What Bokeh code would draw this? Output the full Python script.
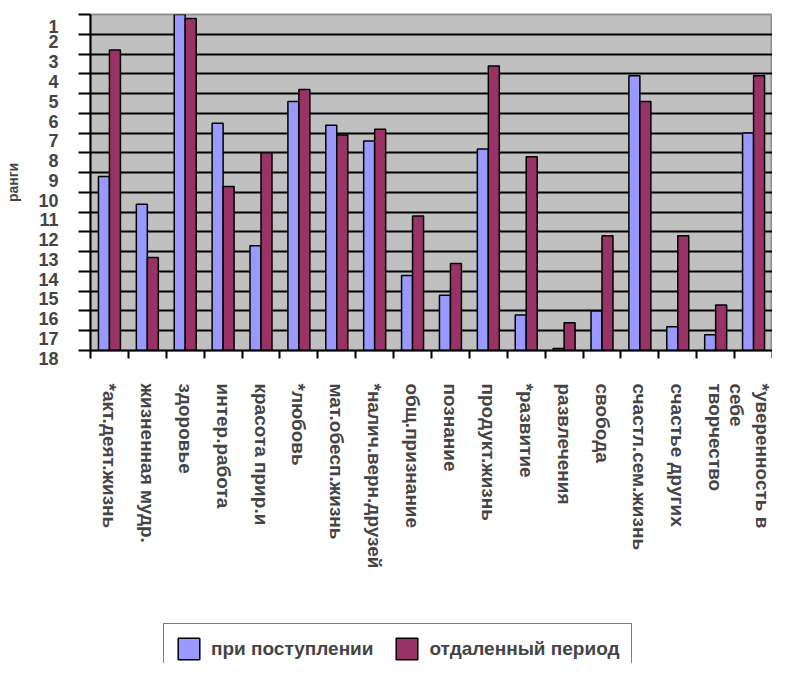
from bokeh.plotting import figure
from bokeh.layouts import column
from bokeh.models import (ColumnDataSource, Range1d, FixedTicker, Legend, LegendItem)
from bokeh.transform import dodge
from bokeh.embed import file_html
from bokeh.resources import INLINE

categories = ["*акт.деят.жизнь", "жизненная мудр.", "здоровье", "интер.работа",
              "красота прир.и", "*любовь", "мат.обесп.жизнь", "*налич.верн.друзей",
              "общ.признание", "познание", "продукт.жизнь", "*развитие",
              "развлечения", "свобода", "счастл.сем.жизнь", "счастье других",
              "творчество", "*уверенность в\nсебе"]
at_entry = [9.2, 10.6, 1.0, 6.5, 12.7, 5.4, 6.6, 7.4, 14.2, 15.2, 7.8, 16.2,
            17.9, 16.0, 4.1, 16.8, 17.2, 7.0]
later = [2.8, 13.3, 1.2, 9.7, 8.0, 4.8, 7.1, 6.8, 11.2, 13.6, 3.6, 8.2,
         16.6, 12.2, 5.4, 12.2, 15.7, 4.1]
ranks = list(range(1, 19))
series_names = ["при поступлении", "отдаленный период"]
y_title = "ранги"

FONT = "Liberation Sans"
BLUE = "#9999ff"
PLUM = "#993366"

src = ColumnDataSource(dict(x=[i + 0.5 for i in range(len(categories))],
                            a=at_entry, b=later))

p = figure(width=772, height=600, output_backend="svg", toolbar_location=None,
           x_range=Range1d(0, len(categories)), y_range=Range1d(18, 1),
           min_border_left=90, min_border_right=0, min_border_top=14,
           min_border_bottom=250)

p.border_fill_color = "white"
p.background_fill_color = "#c0c0c0"
p.outline_line_color = "#909090"
p.outline_line_width = 2

r1 = p.vbar(x=dodge("x", -0.145, range=p.x_range), top="a", bottom=18, width=0.29,
            source=src, fill_color=BLUE, line_color="black", line_width=1.5)
r2 = p.vbar(x=dodge("x", 0.145, range=p.x_range), top="b", bottom=18, width=0.29,
            source=src, fill_color=PLUM, line_color="black", line_width=1.5)

# grid
p.xgrid.visible = False
p.ygrid.ticker = FixedTicker(ticks=ranks[:-1])
p.ygrid.grid_line_color = "black"
p.ygrid.grid_line_width = 2

# y axis (labels sit just under their grid line, as in the original)
ya = p.yaxis[0]
ya.ticker = FixedTicker(ticks=ranks)
ya.major_label_overrides = {r: "\n" + str(r) for r in ranks}
ya.major_label_text_line_height = 0.82
ya.axis_line_color = "black"
ya.axis_line_width = 2
ya.major_tick_line_color = "black"
ya.major_tick_line_width = 2
ya.major_tick_out = 12
ya.major_tick_in = 0
ya.minor_tick_line_color = None
ya.major_label_standoff = 20
ya.major_label_text_font = FONT
ya.major_label_text_font_style = "bold"
ya.major_label_text_font_size = "18px"
ya.axis_label = y_title
ya.axis_label_text_font = FONT
ya.axis_label_text_font_style = "bold"
ya.axis_label_text_font_size = "14px"
ya.axis_label_standoff = 14

# x axis: tick marks between categories, labels at category centres
xa = p.xaxis[0]
xa.ticker = FixedTicker(ticks=[i + 0.5 for i in range(len(categories))],
                        minor_ticks=list(range(len(categories) + 1)))
xa.major_label_overrides = {i + 0.5: c for i, c in enumerate(categories)}
xa.major_label_orientation = "vertical"
xa.axis_line_color = "black"
xa.axis_line_width = 2
xa.major_tick_line_color = None
xa.major_tick_out = 0
xa.major_tick_in = 0
xa.minor_tick_line_color = "black"
xa.minor_tick_line_width = 2
xa.minor_tick_out = 8
xa.minor_tick_in = 0
xa.major_label_standoff = 25
xa.major_label_text_font = FONT
xa.major_label_text_font_style = "bold"
xa.major_label_text_font_size = "19px"

# legend strip (its frame is aligned with the chart's frame by the column)
p2 = figure(width=772, height=63, output_backend="svg", toolbar_location=None,
            x_range=Range1d(0, len(categories)), y_range=Range1d(18, 1),
            x_axis_type=None, y_axis_type=None, min_border=0)
p2.outline_line_color = None
p2.grid.visible = False
p2.background_fill_color = "white"
p2.border_fill_color = "white"
d1 = p2.vbar(x="x", top="a", bottom=18, width=0.29, source=src,
             fill_color=BLUE, line_color="black", line_width=1.5, visible=False)
d2 = p2.vbar(x="x", top="b", bottom=18, width=0.29, source=src,
             fill_color=PLUM, line_color="black", line_width=1.5, visible=False)

legend = Legend(items=[LegendItem(label=series_names[0], renderers=[d1]),
                       LegendItem(label=series_names[1], renderers=[d2])],
                orientation="horizontal", location=(73, -11),
                glyph_width=27, glyph_height=27, label_standoff=9, spacing=20,
                padding=11, margin=0,
                label_text_font=FONT, label_text_font_style="bold",
                label_text_font_size="19px",
                inactive_fill_alpha=0,
                border_line_color="black", border_line_width=1.5,
                background_fill_color="white", background_fill_alpha=1)
p2.add_layout(legend, "center")

layout = column(p, p2, spacing=0)
open("out.html", "w").write(file_html(layout, INLINE))
